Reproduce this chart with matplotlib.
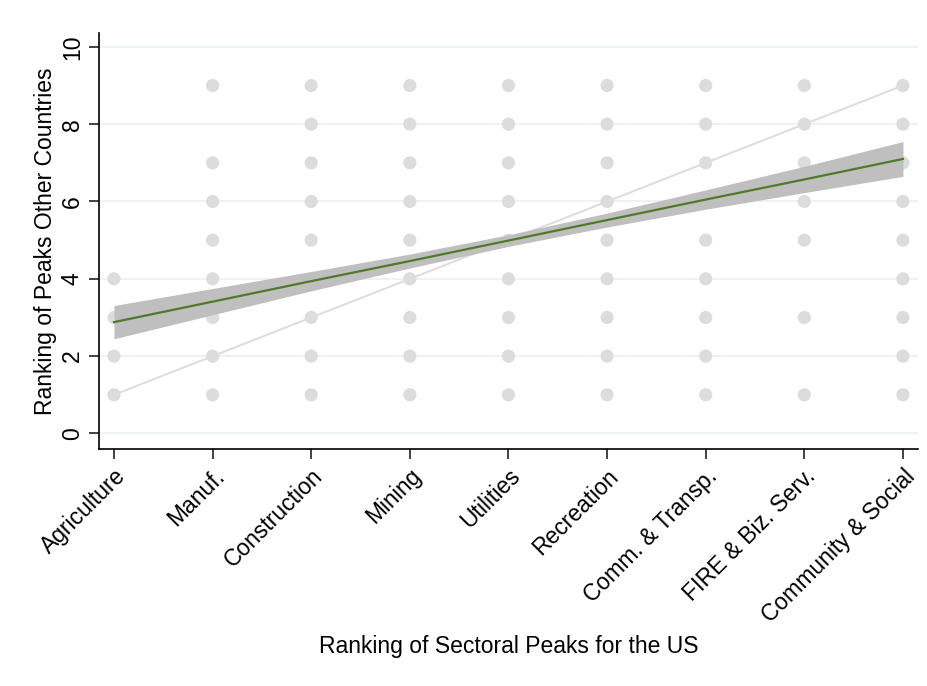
import numpy as np
import matplotlib
matplotlib.use("Agg")
import matplotlib.pyplot as plt

plt.rcParams['font.family'] = ['Liberation Sans', 'DejaVu Sans']

# Sector names (x axis, ranking for the US)
sectors = ['Agriculture', 'Manuf.', 'Construction', 'Mining', 'Utilities',
           'Recreation', 'Comm. & Transp.', 'FIRE & Biz. Serv.', 'Community & Social']

# Ranking of peaks in other countries observed for each sector
ranks_other = [
    [1, 2, 3, 4],
    [1, 2, 3, 4, 5, 6, 7, 9],
    [1, 2, 3, 5, 6, 7, 8, 9],
    [1, 2, 3, 4, 5, 6, 7, 8, 9],
    [1, 2, 3, 4, 5, 6, 7, 8, 9],
    [1, 2, 3, 4, 5, 6, 7, 8, 9],
    [1, 2, 3, 4, 5, 6, 7, 8, 9],
    [1, 3, 5, 6, 7, 8, 9],
    [1, 2, 3, 4, 5, 6, 7, 8, 9],
]

# Linear fit and 95% band at each sector
fit_y = [2.88, 3.41, 3.94, 4.46, 4.99, 5.52, 6.05, 6.57, 7.10]
band_lo = [2.45, 3.07, 3.69, 4.28, 4.84, 5.34, 5.80, 6.23, 6.65]
band_hi = [3.31, 3.75, 4.19, 4.64, 5.14, 5.70, 6.30, 6.91, 7.55]

xs = np.arange(1, len(sectors) + 1)

fig = plt.figure(figsize=(9.27, 6.86), dpi=100)
ax = fig.add_axes([0.107, 0.345, 0.883, 0.607])

# grid
for yv in range(0, 11, 2):
    ax.axhline(yv, color='#eaf1f3', lw=1.2, zorder=0)

# scatter
px = [x for x, col in zip(xs, ranks_other) for _ in col]
py = [y for col in ranks_other for y in col]
ax.scatter(px, py, s=90, color='#dcdcdc', edgecolors='none', zorder=2)

# 45-degree line
ax.plot([xs[0], xs[-1]], [xs[0], xs[-1]], color='#dedede', lw=1.5, zorder=3)

# fit band and line
ax.fill_between(xs, band_lo, band_hi, color='#bfbfbf', lw=0, zorder=4)
ax.plot(xs, fit_y, color='#4f7a28', lw=1.6, zorder=5)

ax.set_xlim(0.85, 9.15)
ax.set_ylim(-0.41, 10.36)
ax.set_yticks(range(0, 11, 2))
ax.set_xticks(xs)
ax.set_xticklabels(sectors, rotation=45, ha='right', rotation_mode='anchor', fontsize=16.5)
for lab in ax.get_yticklabels():
    lab.set_rotation(90)
    lab.set_va('center')
    lab.set_fontsize(16.5)

ax.spines['top'].set_visible(False)
ax.spines['right'].set_visible(False)
ax.spines['left'].set_linewidth(1.2)
ax.spines['bottom'].set_linewidth(1.2)
ax.tick_params(axis='both', length=7, width=1.2, color='#222222', pad=4)

ax.set_ylabel('Ranking of Peaks Other Countries', fontsize=16.5, labelpad=3)
fig.text(0.549, 0.048, 'Ranking of Sectoral Peaks for the US', ha='center', fontsize=16.5)

fig.savefig('out.png', dpi=100)
